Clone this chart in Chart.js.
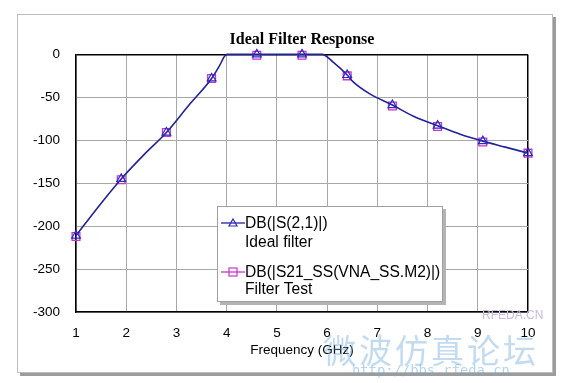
<!DOCTYPE html>
<html>
<head>
<meta charset="utf-8">
<script src="https://cdn.jsdelivr.net/npm/chart.js@4.4.1/dist/chart.umd.min.js"></script>
<style>
  body { margin: 0; background: #fff; }
  #wrap { position: relative; width: 564px; height: 383px; overflow: hidden; }
  #frame { position: absolute; left: 17px; top: 14px; width: 536px; height: 359px; box-sizing: border-box;
           border: 1px solid #bdbdbd; background: #fff; box-shadow: 3px 3px 0 #9c9c9c; }
  #chart { position: absolute; left: 0; top: 0; }
  #legend { position: absolute; left: 217px; top: 206px; width: 226px; height: 96px; box-sizing: border-box;
            background: #fff; border: 1px solid #a0a0a0; box-shadow: 3px 3px 0 #b4b4b4;
            font-family: "Liberation Sans", Arial, sans-serif; font-size: 15.6px; color: #000; }
  #legend .t { position: absolute; left: 27px; line-height: 18px; white-space: nowrap; }
  #legend svg { position: absolute; left: 3px; }
  .wm { position: absolute; pointer-events: none; white-space: nowrap; line-height: 1; }
</style>
</head>
<body>
<div id="wrap">
  <div id="frame"></div>
  <canvas id="chart" width="564" height="383"></canvas>
  <div id="legend">
    <svg width="24" height="12" style="top:10px"><line x1="0" y1="6" x2="24" y2="6" stroke="#22229a" stroke-width="1.3"/><polygon points="12,2 16,9 8,9" fill="none" stroke="#2a2ac0" stroke-width="1.2"/></svg>
    <div class="t" style="top:7px">DB(|S(2,1)|)</div>
    <div class="t" style="top:26px">Ideal filter</div>
    <svg width="24" height="12" style="top:59px"><line x1="0" y1="6" x2="24" y2="6" stroke="#cc33cc" stroke-width="1.3"/><rect x="8" y="2" width="8" height="8" fill="none" stroke="#cc33cc" stroke-width="1.2"/></svg>
    <div class="t" style="top:56px">DB(|S21_SS(VNA_SS.M2)|)</div>
    <div class="t" style="top:73px">Filter Test</div>
  </div>
  <div class="wm" style="left:482px; top:308px; font: 12px 'Liberation Sans', sans-serif; color:#c9b8e8;">RFEDA.CN</div>
  <div class="wm" style="left:323px; top:325px; font: 33px 'Noto Sans CJK SC', sans-serif; color:rgba(110,170,220,0.42); letter-spacing:3px;">微波仿真论坛</div>
  <div class="wm" style="left:352px; top:362px; font: 13.8px 'DejaVu Sans Mono', monospace; color:rgba(110,170,220,0.5);">http://bbs.rfeda.cn</div>
</div>

<script>
// Ideal filter sweep - GHz / dB
const lineFreq = [1, 1.45, 1.9, 2.35, 2.8, 3.25, 3.7, 3.85, 4.0, 4.6, 5.5, 5.9, 6.12, 6.4, 6.52, 6.85, 7.3, 7.72, 8.2, 8.65, 9.1, 9.55, 10];
const idealDb  = [-211, -177, -145, -117, -91, -59, -28, -14, 0, 0, 0, 0, -9, -24, -32, -46, -59, -72, -83, -93, -101, -108, -115];

// Filter test points (markers only)
const testFreq = [1, 1.9, 2.8, 3.7, 4.6, 5.5, 6.4, 7.3, 8.2, 9.1, 10];
const testDb   = [-212, -146, -91, -28, -1, -1, -25, -60, -84, -102, -115];

const xMin = 1, xMax = 10, xStep = 1;
const yMin = -300, yMax = 0, yStep = 50;

const ctx = document.getElementById('chart').getContext('2d');
const chart = new Chart(ctx, {
    type: 'line',
    data: {
        datasets: [{
            label: 'DB(|S(2,1)|) Ideal filter',
            data: lineFreq.map((f, i) => ({ x: f, y: idealDb[i] })),
            borderColor: '#22229a',
            borderWidth: 1.6,
            cubicInterpolationMode: 'monotone',
            fill: false,
            pointStyle: 'triangle',
            pointRadius: c => testFreq.includes(lineFreq[c.dataIndex]) ? 5 : 0,
            pointBorderColor: '#2a2ac0',
            pointBackgroundColor: 'rgba(0,0,0,0)',
            pointBorderWidth: 1.2,
            clip: false,
            order: 0
        }, {
            label: 'DB(|S21_SS(VNA_SS.M2)|) Filter Test',
            data: testFreq.map((f, i) => ({ x: f, y: testDb[i] })),
            showLine: false,
            pointStyle: 'rect',
            pointRadius: 5.5,
            pointBorderColor: '#cc33cc',
            pointBackgroundColor: 'rgba(0,0,0,0)',
            pointBorderWidth: 1.3,
            clip: false,
            order: 1
        }]
    },
    options: {
        responsive: false,
        animation: false,
        layout: { padding: { left: 0, right: 36, top: 0, bottom: 0 } },
        plugins: {
            legend: { display: false },
            tooltip: { enabled: false },
            title: {
                display: true,
                fullSize: false,
                text: 'Ideal Filter Response',
                color: '#000',
                font: { family: '"Liberation Serif", "Times New Roman", serif', size: 16, weight: 'bold', lineHeight: 1.2 },
                padding: { top: 30.6, bottom: 4.6 }
            }
        },
        scales: {
            x: {
                type: 'linear',
                min: xMin, max: xMax,
                ticks: {
                    stepSize: xStep, padding: 13, color: '#000',
                    font: { family: '"Liberation Sans", Arial, sans-serif', size: 13.5 }
                },
                grid: {
                    drawTicks: false,
                    color: c => (c.tick && c.tick.value === xMax) ? '#000' : '#a8a8a8',
                    lineWidth: c => (c.tick && c.tick.value === xMax) ? 1.5 : 1
                },
                border: { color: '#000', width: 1.5 },
                title: {
                    display: true, text: 'Frequency (GHz)', color: '#000',
                    font: { family: '"Liberation Sans", Arial, sans-serif', size: 13.5, lineHeight: 1.2 },
                    padding: { top: 0, bottom: 25 }
                },
                afterFit: s => { s.height = 71; }
            },
            y: {
                min: yMin, max: yMax,
                ticks: {
                    stepSize: yStep, padding: 16, color: '#000',
                    font: { family: '"Liberation Sans", Arial, sans-serif', size: 13.5 }
                },
                grid: {
                    drawTicks: false,
                    color: c => (c.tick && c.tick.value === yMax) ? '#000' : '#a8a8a8',
                    lineWidth: c => (c.tick && c.tick.value === yMax) ? 1.5 : 1
                },
                border: { color: '#000', width: 1.5 },
                afterFit: s => { s.width = 76; }
            }
        }
    }
});
</script>
</body>
</html>
